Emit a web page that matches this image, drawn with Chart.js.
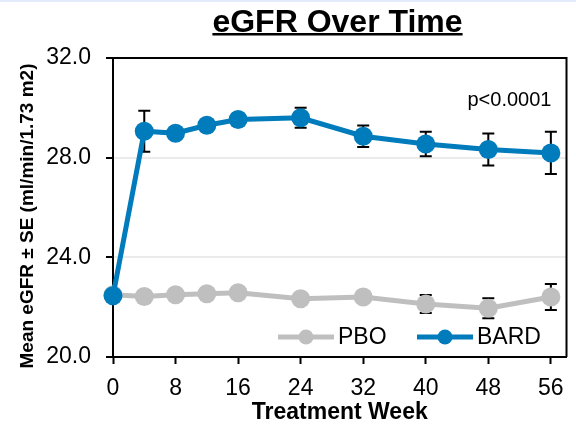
<!DOCTYPE html>
<html>
<head>
<meta charset="utf-8">
<script src="https://cdn.jsdelivr.net/npm/chart.js@4.4.1/dist/chart.umd.min.js"></script>
<style>
  html, body { margin: 0; padding: 0; background: #fff; }
  canvas { display: block; }
</style>
</head>
<body>
<canvas id="egfrChart" width="576" height="426"></canvas>
<script>
const FONT = '"Liberation Sans", Arial, sans-serif';

// treatment weeks and mean eGFR +/- SE per arm
const weeks = [0, 4, 8, 12, 16, 24, 32, 40, 48, 56];
const bardMean = [22.46, 29.06, 28.98, 29.3, 29.53, 29.6, 28.86, 28.55, 28.33, 28.19];
const bardSE = [0.15, 0.82, 0.2, 0.25, 0.25, 0.4, 0.43, 0.49, 0.64, 0.85];
const pboMean = [22.5, 22.43, 22.5, 22.54, 22.58, 22.34, 22.41, 22.13, 21.96, 22.41];
const pboSE = [0.15, 0.15, 0.15, 0.2, 0.2, 0.2, 0.22, 0.36, 0.4, 0.52];

const xTicks = [0, 8, 16, 24, 32, 40, 48, 56];
const yTicks = [20, 24, 28, 32];

const BLUE = "#007BBB";
const GRAY = "#BFBFBF";

const toPoints = (means, se) =>
  weeks.map((w, i) => ({ x: w, y: means[i], se: se[i] }));

// whiskers go under the markers
const errorBars = {
  id: "errorBars",
  beforeDatasetsDraw(chart) {
    const { ctx, scales: { x, y } } = chart;
    ctx.save();
    ctx.strokeStyle = "#000";
    ctx.lineWidth = 2;
    chart.data.datasets.forEach((ds) => {
      ds.data.forEach((p) => {
        const px = x.getPixelForValue(p.x);
        const top = y.getPixelForValue(p.y + p.se);
        const bot = y.getPixelForValue(p.y - p.se);
        ctx.beginPath();
        ctx.moveTo(px, top);
        ctx.lineTo(px, bot);
        ctx.moveTo(px - 6, top);
        ctx.lineTo(px + 6, top);
        ctx.moveTo(px - 6, bot);
        ctx.lineTo(px + 6, bot);
        ctx.stroke();
      });
    });
    ctx.restore();
  },
};

// title, y-axis label, frame, p-value and the in-plot legend
const decorations = {
  id: "decorations",
  beforeDraw(chart) {
    const { ctx } = chart;
    ctx.save();
    ctx.fillStyle = "#E3ECFA";
    ctx.fillRect(0, 0, chart.width, 2);
    ctx.restore();
  },
  afterDraw(chart) {
    const { ctx, chartArea: a } = chart;
    ctx.save();

    // title with underline
    ctx.font = "bold 32px " + FONT;
    ctx.fillStyle = "#000";
    ctx.textAlign = "center";
    ctx.textBaseline = "alphabetic";
    const title = "eGFR Over Time";
    const cx = 337.5;
    ctx.fillText(title, cx, 31.5);
    const tw = ctx.measureText(title).width;
    ctx.fillRect(cx - tw / 2, 33, tw, 2.5);

    // y-axis label, rotated
    ctx.save();
    ctx.translate(28, 216);
    ctx.rotate(-Math.PI / 2);
    ctx.font = "bold 19px " + FONT;
    ctx.textBaseline = "middle";
    ctx.fillText("Mean eGFR ± SE (ml/min/1.73 m2)", 0, 0);
    ctx.restore();

    // top and right edges of the box
    ctx.strokeStyle = "#000";
    ctx.lineWidth = 2;
    ctx.beginPath();
    ctx.moveTo(a.left, a.top);
    ctx.lineTo(a.right, a.top);
    ctx.lineTo(a.right, a.bottom);
    ctx.stroke();

    ctx.font = "20px " + FONT;
    ctx.textAlign = "left";
    ctx.fillText("p<0.0001", a.right - 99, a.top + 48);

    // legend
    const ly = a.top + 279;
    const items = [
      { label: "PBO", color: GRAY, x0: 278 },
      { label: "BARD", color: BLUE, x0: 417 },
    ];
    ctx.font = "23px " + FONT;
    ctx.textBaseline = "middle";
    items.forEach((it) => {
      ctx.strokeStyle = it.color;
      ctx.lineWidth = 5;
      ctx.beginPath();
      ctx.moveTo(it.x0, ly);
      ctx.lineTo(it.x0 + 56, ly);
      ctx.stroke();
      ctx.fillStyle = it.color;
      ctx.beginPath();
      ctx.arc(it.x0 + 28, ly, 7.5, 0, Math.PI * 2);
      ctx.fill();
      ctx.fillStyle = "#000";
      ctx.fillText(it.label, it.x0 + 60, ly + 1);
    });
    ctx.restore();
  },
};

const ctx = document.getElementById("egfrChart").getContext("2d");
const egfrChart = new Chart(ctx, {
  type: "line",
  data: {
    datasets: [
      {
        label: "BARD",
        data: toPoints(bardMean, bardSE),
        borderColor: BLUE,
        backgroundColor: BLUE,
        borderWidth: 5,
        pointRadius: 9.5,
        pointBorderWidth: 0,
        pointBackgroundColor: BLUE,
        clip: false,
        order: 0,
      },
      {
        label: "PBO",
        data: toPoints(pboMean, pboSE),
        borderColor: GRAY,
        backgroundColor: GRAY,
        borderWidth: 5,
        pointRadius: 9.5,
        pointBorderWidth: 0,
        pointBackgroundColor: GRAY,
        clip: false,
        order: 1,
      },
    ],
  },
  options: {
    responsive: false,
    animation: false,
    devicePixelRatio: 1,
    layout: { padding: { top: 58, right: 1, left: 0, bottom: 0 } },
    plugins: {
      legend: { display: false },
      tooltip: { enabled: false },
    },
    scales: {
      x: {
        type: "linear",
        min: 0,
        max: 58,
        afterBuildTicks: (scale) => {
          scale.ticks = xTicks.map((v) => ({ value: v }));
        },
        afterFit: (scale) => {
          scale.height = 69;
        },
        ticks: {
          font: { family: FONT, size: 23 },
          color: "#000",
          padding: 11,
          maxRotation: 0,
        },
        grid: {
          drawOnChartArea: false,
          tickLength: 7,
          tickColor: "#000",
          tickWidth: 2,
        },
        border: { color: "#000", width: 2 },
        title: {
          display: true,
          text: "Treatment Week",
          color: "#000",
          font: { family: FONT, size: 23, weight: "bold" },
          padding: { top: 0, bottom: 0 },
        },
      },
      y: {
        min: 20,
        max: 32,
        afterBuildTicks: (scale) => {
          scale.ticks = yTicks.map((v) => ({ value: v }));
        },
        afterFit: (scale) => {
          scale.width = 113;
        },
        ticks: {
          font: { family: FONT, size: 23 },
          color: "#000",
          padding: 15,
          callback: (v) => v.toFixed(1),
        },
        grid: {
          color: (c) =>
            c.tick && (c.tick.value === 24 || c.tick.value === 28)
              ? "#EBEBEB"
              : "rgba(0,0,0,0)",
          lineWidth: 2,
          tickLength: 7,
          tickColor: "#000",
          tickWidth: 2,
        },
        border: { color: "#000", width: 2 },
      },
    },
  },
  plugins: [errorBars, decorations],
});
</script>
</body>
</html>
